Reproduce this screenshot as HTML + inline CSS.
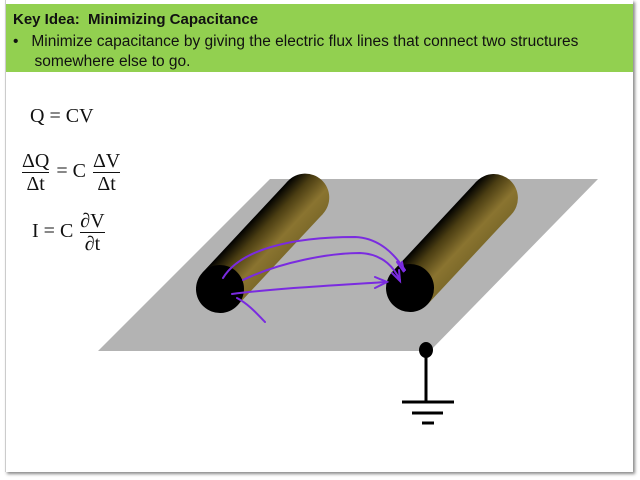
<!DOCTYPE html>
<html><head><meta charset="utf-8"><style>
body{margin:0;width:640px;height:480px;background:#fff;overflow:hidden;font-family:"Liberation Sans",sans-serif}
.slide{position:absolute;left:5px;top:0;width:627px;height:472px;background:#fff;box-shadow:2px 2px 3px #888;border-left:1px solid #ccc}
.hdr{position:absolute;left:0;top:4px;width:627px;height:68px;background:#92d050}
.t1{position:absolute;left:7px;top:7px;font-size:15px;font-weight:bold;color:#111}
.t2{position:absolute;left:7px;top:28px;font-size:15.5px;color:#111;line-height:20px}
.eq{position:absolute;font-family:"Liberation Serif",serif;font-size:20px;color:#111}
.fr{display:inline-block;vertical-align:middle;text-align:center;margin:0 2px}
.fr span{display:block;line-height:22px}
.fr .n{border-bottom:1.5px solid #111}
</style></head><body>
<div class="slide">
<div class="hdr">
<div class="t1">Key Idea:&nbsp; Minimizing Capacitance</div>
<div class="t2">•&nbsp;&nbsp; Minimize capacitance by giving the electric flux lines that connect two structures<br>&nbsp;&nbsp;&nbsp;&nbsp; somewhere else to go.</div>
</div>
</div>
<div class="eq" style="left:30px;top:105px">Q = CV</div>
<div class="eq" style="left:20px;top:150px"><span class="fr"><span class="n">ΔQ</span><span>Δt</span></span> = C <span class="fr"><span class="n">ΔV</span><span>Δt</span></span></div>
<div class="eq" style="left:32px;top:210px">I = C <span class="fr"><span class="n">∂V</span><span>∂t</span></span></div>
<svg width="640" height="480" style="position:absolute;left:0;top:0">
<defs>
<linearGradient id="g" x1="0" y1="0" x2="0" y2="1">
<stop offset="0" stop-color="#000"/><stop offset="0.3" stop-color="#4a3d12"/><stop offset="0.7" stop-color="#8a7430"/><stop offset="1" stop-color="#7d6a2a"/></linearGradient>
</defs>
<polygon points="270,179 598,179 430,351 98,351" fill="#b3b3b3"/>
<g transform="translate(220,289) rotate(-47)">
<circle cx="125" cy="0" r="24" fill="url(#g)"/>
<rect x="0" y="-24" width="125" height="48" fill="url(#g)"/>
<circle cx="0" cy="0" r="24" fill="#000"/>
</g>
<g transform="translate(410,288) rotate(-47)">
<circle cx="123" cy="0" r="24" fill="url(#g)"/>
<rect x="0" y="-24" width="123" height="48" fill="url(#g)"/>
<circle cx="0" cy="0" r="24" fill="#000"/>
</g>
<g fill="none" stroke="#7a2be0" stroke-width="2" stroke-linecap="round">
<path d="M223,278 C240,250 290,237 355,237 C380,238 395,255 405,270"/>
<path d="M397,262 L404,272 L402,262"/>
<path d="M243,280 C280,262 330,253 360,253 C385,254 395,270 400,280"/>
<path d="M392,273 L400,281 L399,270"/>
<path d="M232,294 C280,288 340,285 385,282"/>
<path d="M375,277 L387,282 L375,288"/>
<path d="M237,298 C250,305 258,315 265,322"/>
</g>
<ellipse cx="426" cy="350" rx="7" ry="8" fill="#000"/>
<g stroke="#000" stroke-width="3">
<line x1="426" y1="352" x2="426" y2="402"/>
<line x1="402" y1="402" x2="454" y2="402"/>
<line x1="412" y1="413" x2="443" y2="413"/>
<line x1="422" y1="423" x2="434" y2="423"/>
</g>
</svg>
</body></html>
